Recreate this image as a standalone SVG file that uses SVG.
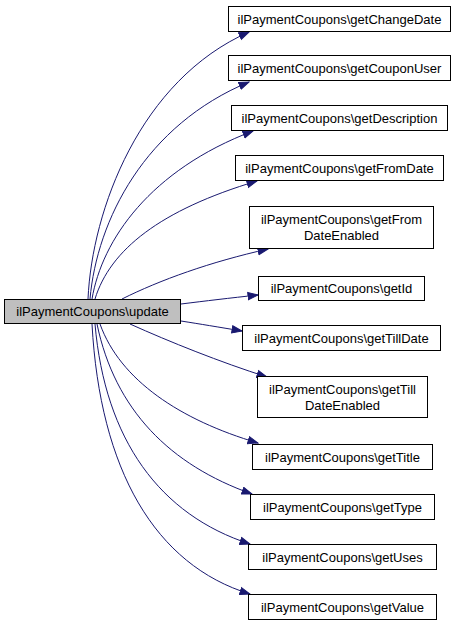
<svg xmlns="http://www.w3.org/2000/svg" width="460" height="627" viewBox="0 0 460 627">
<style>
  .box { fill: #ffffff; stroke: #000000; stroke-width: 1; }
  .main { fill: #bfbfbf; stroke: #000000; stroke-width: 1; }
  .lbl { font-family: "Liberation Sans", Arial, sans-serif; font-size: 13px; fill: #000000; text-anchor: middle; }
  .edge { fill: none; stroke: #191970; stroke-width: 1; marker-end: url(#arr); }
</style>
<defs>
  <marker id="arr" markerUnits="userSpaceOnUse" markerWidth="12" markerHeight="10" viewBox="0 -5 11 10" refX="10" refY="0" orient="auto">
    <path d="M0,-3.6 L10,0 L0,3.6 z" fill="#191970" stroke="#191970" stroke-width="1"/>
  </marker>
</defs>
<rect width="460" height="627" fill="#ffffff"/>
<g id="edges">
  <path class="edge" d="M88,299 C92,210 140,80 249,32"/>
  <path class="edge" d="M90,299 C97,220 145,125 249,82"/>
  <path class="edge" d="M92,299 C102,240 150,170 253,131"/>
  <path class="edge" d="M95,299 C110,250 160,210 257,181"/>
  <path class="edge" d="M122,299 C160,280 210,262 268,249"/>
  <path class="edge" d="M181,304 C205,301 230,298 258,295"/>
  <path class="edge" d="M181,321 C200,324 218,327 242,331"/>
  <path class="edge" d="M130,324 C170,342 220,362 267,377"/>
  <path class="edge" d="M100,324 C120,380 180,420 258,443"/>
  <path class="edge" d="M97,324 C115,410 170,465 252,494"/>
  <path class="edge" d="M95,324 C105,440 160,515 250,544"/>
  <path class="edge" d="M92,324 C100,470 155,565 250,594"/>
</g>
<g id="update">
  <rect class="main" x="4.5" y="299.5" width="176" height="24"/>
  <text class="lbl" x="92.5" y="316">ilPaymentCoupons\update</text>
</g>
<g id="getChangeDate">
  <rect class="box" x="228.5" y="6.5" width="222" height="25"/>
  <text class="lbl" x="339.5" y="23.5">ilPaymentCoupons\getChangeDate</text>
</g>
<g id="getCouponUser">
  <rect class="box" x="228.5" y="55.5" width="222" height="25"/>
  <text class="lbl" x="339.5" y="72.5">ilPaymentCoupons\getCouponUser</text>
</g>
<g id="getDescription">
  <rect class="box" x="231.5" y="105.5" width="216" height="25"/>
  <text class="lbl" x="339.5" y="122.5">ilPaymentCoupons\getDescription</text>
</g>
<g id="getFromDate">
  <rect class="box" x="235.5" y="155.5" width="208" height="25"/>
  <text class="lbl" x="339.5" y="172.5">ilPaymentCoupons\getFromDate</text>
</g>
<g id="getFromDateEnabled">
  <rect class="box" x="249.5" y="206.5" width="184" height="42"/>
  <text class="lbl" x="341.5" y="224">ilPaymentCoupons\getFrom</text>
  <text class="lbl" x="341.5" y="240">DateEnabled</text>
</g>
<g id="getId">
  <rect class="box" x="258.5" y="276.5" width="166" height="24"/>
  <text class="lbl" x="341.5" y="293">ilPaymentCoupons\getId</text>
</g>
<g id="getTillDate">
  <rect class="box" x="242.5" y="325.5" width="198" height="25"/>
  <text class="lbl" x="341.5" y="342.5">ilPaymentCoupons\getTillDate</text>
</g>
<g id="getTillDateEnabled">
  <rect class="box" x="257.5" y="376.5" width="170" height="41"/>
  <text class="lbl" x="342.5" y="393.5">ilPaymentCoupons\getTill</text>
  <text class="lbl" x="342.5" y="409.5">DateEnabled</text>
</g>
<g id="getTitle">
  <rect class="box" x="252.5" y="444.5" width="180" height="25"/>
  <text class="lbl" x="342.5" y="461.5">ilPaymentCoupons\getTitle</text>
</g>
<g id="getType">
  <rect class="box" x="250.5" y="494.5" width="184" height="25"/>
  <text class="lbl" x="342.5" y="511.5">ilPaymentCoupons\getType</text>
</g>
<g id="getUses">
  <rect class="box" x="248.5" y="544.5" width="188" height="25"/>
  <text class="lbl" x="342.5" y="561.5">ilPaymentCoupons\getUses</text>
</g>
<g id="getValue">
  <rect class="box" x="248.5" y="594.5" width="188" height="25"/>
  <text class="lbl" x="342.5" y="611.5">ilPaymentCoupons\getValue</text>
</g>
</svg>
